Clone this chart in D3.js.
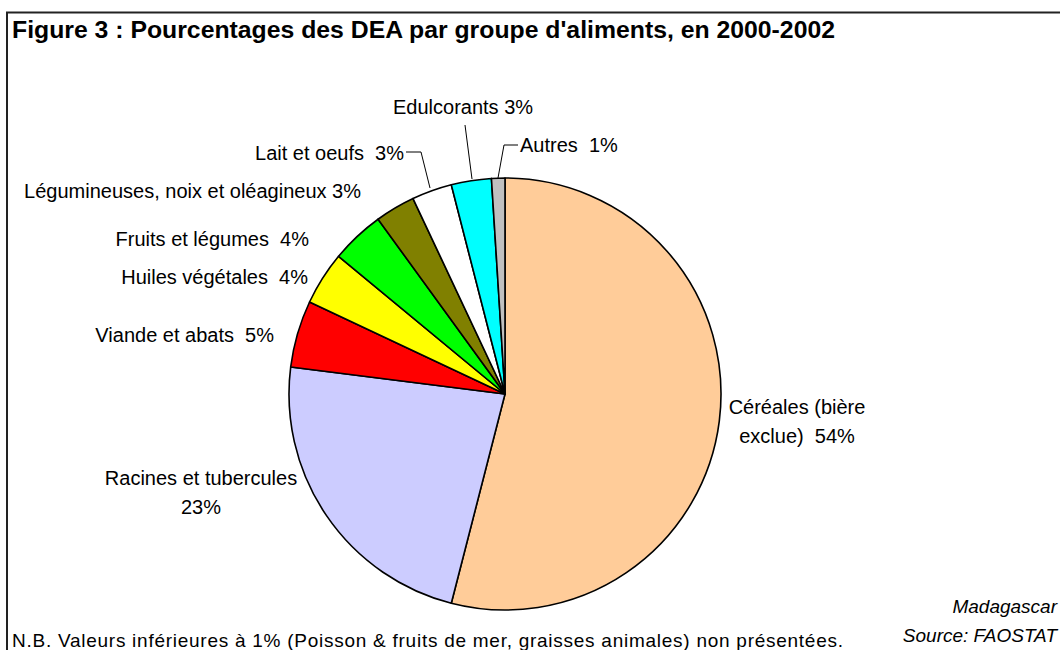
<!DOCTYPE html>
<html>
<head>
<meta charset="utf-8">
<script src="https://cdn.jsdelivr.net/npm/d3@7"></script>
<style>
  html, body { margin: 0; padding: 0; background: #fff; }
  svg { display: block; }
  text { font-family: "Liberation Sans", Arial, sans-serif; fill: #000; white-space: pre; }
</style>
</head>
<body>
<div id="chart"></div>
<script>
// Food groups, clockwise from 12 o'clock
const categories = [
    "Céréales (bière exclue)",
    "Racines et tubercules",
    "Viande et abats",
    "Huiles végétales",
    "Fruits et légumes",
    "Légumineuses, noix et oléagineux",
    "Lait et oeufs",
    "Edulcorants",
    "Autres"
];
const values = [54, 23, 5, 4, 4, 3, 3, 3, 1];
const colors = ["#FFCC99", "#CCCCFF", "#FF0000", "#FFFF00", "#00FF00", "#808000", "#FFFFFF", "#00FFFF", "#C0C0C0"];

// Label text lines (Excel style)
const labelLines = [
    ["Céréales (bière", "exclue)  54%"],
    ["Racines et tubercules", "23%"],
    ["Viande et abats  5%"],
    ["Huiles végétales  4%"],
    ["Fruits et légumes  4%"],
    ["Légumineuses, noix et oléagineux 3%"],
    ["Lait et oeufs  3%"],
    ["Edulcorants 3%"],
    ["Autres  1%"]
];

const width = 1060, height = 650;
const cx = 505, cy = 394, radius = 216;

// label placement: anchor point (first baseline) and text-anchor
const labelLayout = [
    { x: 797, y: 414, anchor: "middle" },
    { x: 201, y: 485, anchor: "middle" },
    { x: 274, y: 342, anchor: "end" },
    { x: 308, y: 284, anchor: "end" },
    { x: 309, y: 246, anchor: "end" },
    { x: 361, y: 198, anchor: "end" },
    { x: 404, y: 160, anchor: "end" },
    { x: 393, y: 114, anchor: "start" },
    { x: 520, y: 152, anchor: "start" }
];

// leader lines for the small slices (label end -> slice edge)
const leaders = {
    6: [[406, 152], [421, 152], [430, 188]],
    7: [[465, 125], [472, 179]],
    8: [[518, 145], [504, 145], [498, 178]]
};

const svg = d3.select("#chart").append("svg")
    .attr("width", width)
    .attr("height", height);

svg.append("rect")
    .attr("width", width)
    .attr("height", height)
    .attr("fill", "#fff");

// frame (top and left edges visible)
svg.append("path")
    .attr("d", `M7,${height + 5} L7,12.5 L${width + 5},12.5`)
    .attr("fill", "none")
    .attr("stroke", "#222")
    .attr("stroke-width", 2);

// Title
svg.append("text")
    .attr("x", 12)
    .attr("y", 38)
    .attr("font-size", 23)
    .attr("font-weight", "bold")
    .attr("textLength", 823)
    .attr("lengthAdjust", "spacingAndGlyphs")
    .text("Figure 3 : Pourcentages des DEA par groupe d'aliments, en 2000-2002");

// Pie
const pie = d3.pie().sort(null).value(d => d)
    .startAngle(0).endAngle(2 * Math.PI);
const arc = d3.arc().innerRadius(0).outerRadius(radius);

const g = svg.append("g").attr("transform", `translate(${cx},${cy})`);
g.selectAll("path")
    .data(pie(values))
    .enter()
    .append("path")
    .attr("d", arc)
    .attr("fill", (d, i) => colors[i])
    .attr("stroke", "#000")
    .attr("stroke-width", 1.6)
    .attr("stroke-linejoin", "round");

// leader lines
Object.values(leaders).forEach(pts => {
    svg.append("path")
        .attr("d", d3.line()(pts))
        .attr("fill", "none")
        .attr("stroke", "#000")
        .attr("stroke-width", 1);
});

// labels
categories.forEach((c, i) => {
    const L = labelLayout[i];
    const t = svg.append("text")
        .attr("x", L.x)
        .attr("y", L.y)
        .attr("font-size", 20)
        .attr("text-anchor", L.anchor);
    labelLines[i].forEach((line, j) => {
        t.append("tspan")
            .attr("x", L.x)
            .attr("dy", j === 0 ? 0 : 29)
            .text(line);
    });
});

// footnote
svg.append("text")
    .attr("x", 12)
    .attr("y", 647)
    .attr("font-size", 19)
    .attr("textLength", 831)
    .attr("lengthAdjust", "spacing")
    .text("N.B. Valeurs inférieures à 1% (Poisson & fruits de mer, graisses animales) non présentées.");

// source, bottom right
svg.append("text")
    .attr("x", 1057)
    .attr("y", 613)
    .attr("font-size", 19)
    .attr("font-style", "italic")
    .attr("text-anchor", "end")
    .text("Madagascar");

svg.append("text")
    .attr("x", 1057)
    .attr("y", 642)
    .attr("font-size", 19)
    .attr("font-style", "italic")
    .attr("text-anchor", "end")
    .text("Source: FAOSTAT");
</script>
</body>
</html>
